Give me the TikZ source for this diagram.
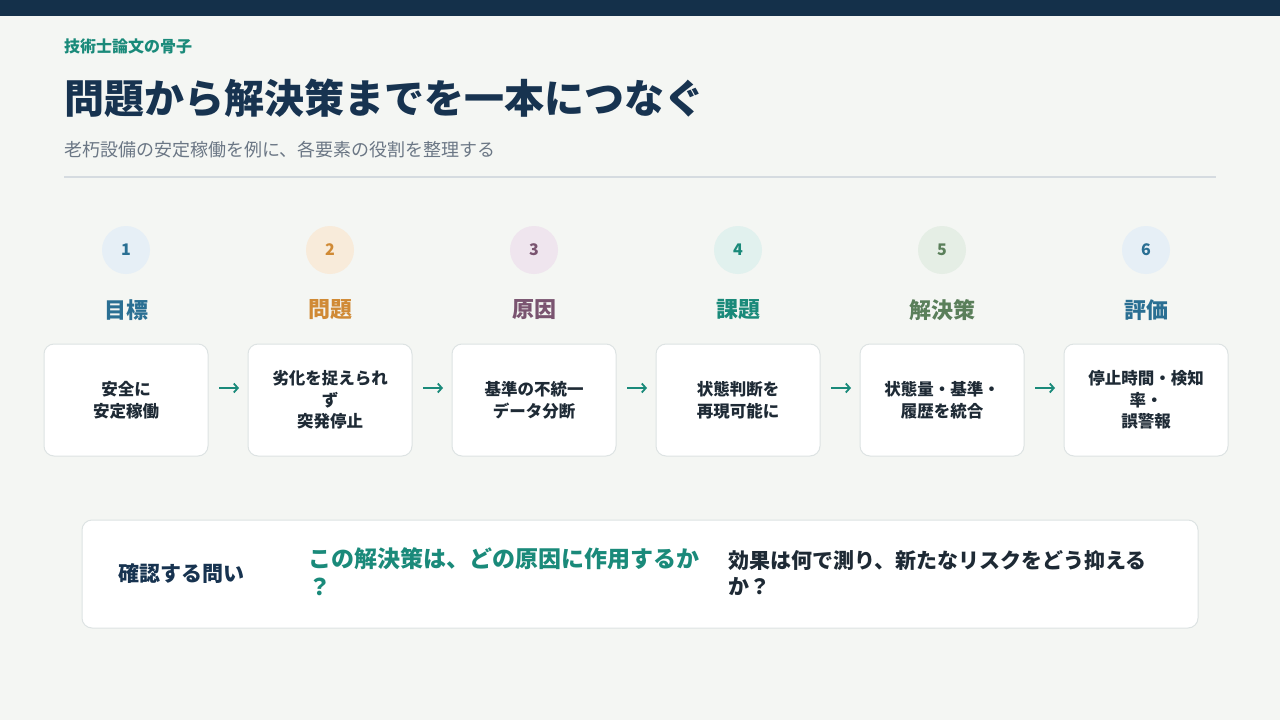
\documentclass[tikz,border=0pt]{standalone}
\usepackage{fontspec}
\setmainfont{Noto Sans CJK JP}
\usetikzlibrary{arrows.meta}
\definecolor{bgc}{HTML}{F4F6F3}
\definecolor{navy}{HTML}{14304A}
\definecolor{titlec}{HTML}{173350}
\definecolor{subc}{HTML}{6B7785}
\definecolor{rulec}{HTML}{D5DBE0}
\definecolor{tealc}{HTML}{1A8A7A}
\definecolor{darkc}{HTML}{1E2A35}
\definecolor{borderc}{HTML}{DDE3E3}
\definecolor{cA}{HTML}{2A6F93}\definecolor{cAbg}{HTML}{E6EFF6}
\definecolor{cB}{HTML}{D08A35}\definecolor{cBbg}{HTML}{F8EBDA}
\definecolor{cC}{HTML}{7A5470}\definecolor{cCbg}{HTML}{EFE5EE}
\definecolor{cD}{HTML}{1A8A7A}\definecolor{cDbg}{HTML}{E1F1EE}
\definecolor{cE}{HTML}{5A7F5A}\definecolor{cEbg}{HTML}{E5EEE5}
\begin{document}
\begin{tikzpicture}[x=1pt,y=-1pt,
  every node/.style={inner sep=0pt,outer sep=0pt},
  stepcircle/.style={circle,minimum size=48pt,font=\fontsize{16}{19}\selectfont\bfseries},
  steplabel/.style={font=\fontsize{22}{26}\selectfont\bfseries},
  stepbox/.style={draw=borderc,line width=1pt,fill=white,rounded corners=10pt,minimum width=164pt,minimum height=112pt,align=center,text=darkc,font=\fontsize{16.5}{21.5}\selectfont\bfseries},
  arr/.style={tealc,line width=1.8pt,-{Straight Barb[length=4pt,width=9pt]}}]
\useasboundingbox (0,0) rectangle (1280,720);
\fill[bgc] (0,0) rectangle (1280,720);
\fill[navy] (0,0) rectangle (1280,16);
\node[anchor=base west,text=tealc,font=\fontsize{16}{19}\selectfont\bfseries] (kicker) at (64,52) {技術士論文の骨子};
\node[anchor=base west,text=titlec,font=\fontsize{40}{48}\selectfont\bfseries] (title) at (64,113) {問題から解決策までを一本につなぐ};
\node[anchor=base west,text=subc,font=\fontsize{18}{22}\selectfont] (sub) at (64,156) {老朽設備の安定稼働を例に、各要素の役割を整理する};
\draw[rulec,line width=2pt] (64,177) -- (1216,177);
\foreach \i/\lbl/\fg/\bg/\txt in {
  1/目標/cA/cAbg/{安全に\\安定稼働},
  2/問題/cB/cBbg/{劣化を捉えられ\\ず\\突発停止},
  3/原因/cC/cCbg/{基準の不統一\\データ分断},
  4/課題/cD/cDbg/{状態判断を\\再現可能に},
  5/解決策/cE/cEbg/{状態量・基準・\\履歴を統合},
  6/評価/cA/cAbg/{停止時間・検知\\率・\\誤警報}}{
  \pgfmathsetmacro{\xx}{126+(\i-1)*204}
  \node[stepcircle,fill=\bg,text=\fg] (c\i) at (\xx,250) {\i};
  \node[steplabel,text=\fg] (l\i) at (\xx,310) {\lbl};
  \node[stepbox] (b\i) at (\xx,400) {\txt};
}
\foreach \i/\j in {1/2,2/3,3/4,4/5,5/6}{
  \draw[arr] ([xshift=11pt,yshift=12pt]b\i.east) -- ([xshift=-9pt,yshift=12pt]b\j.west);
}
\node[draw=borderc,line width=1pt,fill=white,rounded corners=10pt,minimum width=1116pt,minimum height=108pt] (q) at (640,574) {};
\node[anchor=base west,text=titlec,font=\fontsize{21}{25}\selectfont\bfseries] (qlab) at (118,581) {確認する問い};
\node[anchor=base west,align=left,text=tealc,font=\fontsize{23}{28}\selectfont\bfseries] (q1) at (308,595) {この解決策は、どの原因に作用するか\\？};
\node[anchor=base west,align=left,text=darkc,font=\fontsize{21}{26}\selectfont\bfseries] (q2) at (728,594) {効果は何で測り、新たなリスクをどう抑える\\か？};
\end{tikzpicture}
\end{document}
